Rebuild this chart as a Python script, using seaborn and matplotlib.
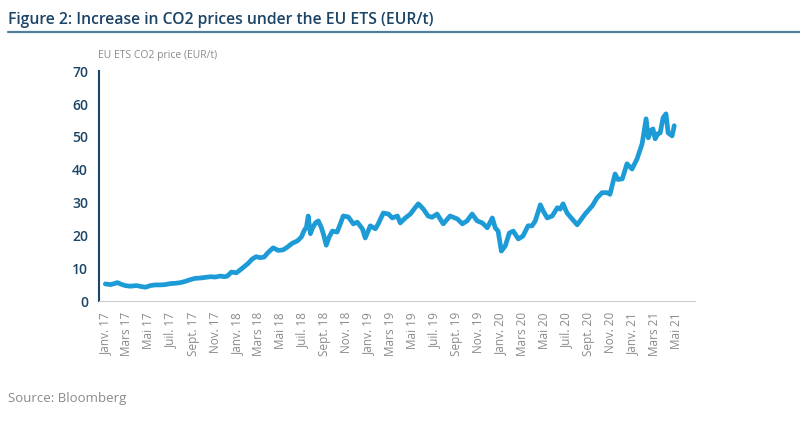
import pandas as pd
import numpy as np
import matplotlib
matplotlib.use("Agg")
import matplotlib.pyplot as plt
import seaborn as sns

# EU ETS CO2 price (EUR/t)
dates = [
    "2017-01-01", "2017-01-15", "2017-01-26", "2017-02-03", "2017-02-14", "2017-02-25",
    "2017-03-11", "2017-03-28", "2017-04-11", "2017-04-22", "2017-05-06", "2017-05-19",
    "2017-06-02", "2017-06-16", "2017-06-30", "2017-07-14", "2017-07-28", "2017-08-11",
    "2017-08-24", "2017-09-07", "2017-09-21", "2017-10-05", "2017-10-19", "2017-11-02",
    "2017-11-15", "2017-11-27", "2017-12-05", "2017-12-16", "2017-12-30",
    "2018-01-10", "2018-01-21", "2018-02-01", "2018-02-12", "2018-02-23", "2018-03-06",
    "2018-03-17", "2018-03-28", "2018-04-11", "2018-04-25", "2018-05-09", "2018-05-20",
    "2018-06-03", "2018-06-17", "2018-06-28", "2018-07-06", "2018-07-12", "2018-07-17",
    "2018-07-23", "2018-07-28", "2018-08-06", "2018-08-14", "2018-08-22", "2018-08-28",
    "2018-09-05", "2018-09-13", "2018-09-22", "2018-10-05", "2018-10-14", "2018-10-22",
    "2018-11-05", "2018-11-19", "2018-11-30", "2018-12-14", "2018-12-22",
    "2019-01-05", "2019-01-19", "2019-01-27", "2019-02-10", "2019-02-24", "2019-03-07",
    "2019-03-21", "2019-03-29", "2019-04-12", "2019-04-26", "2019-05-09", "2019-05-18",
    "2019-06-01", "2019-06-14", "2019-06-25", "2019-07-09", "2019-07-26", "2019-08-14",
    "2019-09-03", "2019-09-17", "2019-09-30", "2019-10-14", "2019-10-28", "2019-11-11",
    "2019-11-25", "2019-12-09", "2019-12-17", "2019-12-25",
    "2020-01-03", "2020-01-14", "2020-01-25", "2020-02-05", "2020-02-19", "2020-03-03",
    "2020-03-17", "2020-03-28", "2020-04-06", "2020-04-20", "2020-04-28", "2020-05-09",
    "2020-05-23", "2020-06-06", "2020-06-14", "2020-06-22", "2020-07-03", "2020-07-17",
    "2020-07-31", "2020-08-08", "2020-08-22", "2020-09-11", "2020-09-24", "2020-10-08",
    "2020-10-22", "2020-10-30", "2020-11-13", "2020-11-21", "2020-12-03", "2020-12-16",
    "2020-12-30",
    "2021-01-13", "2021-01-27", "2021-02-07", "2021-02-13", "2021-02-21", "2021-02-26",
    "2021-03-04", "2021-03-12", "2021-03-18", "2021-03-26", "2021-04-03", "2021-04-09",
    "2021-04-20", "2021-04-26",
]
prices = [
    5.2, 5.0, 5.3, 5.6, 5.1, 4.7,
    4.5, 4.7, 4.4, 4.2, 4.7, 4.9,
    4.9, 5.0, 5.3, 5.4, 5.6, 6.0,
    6.5, 6.9, 7.0, 7.2, 7.4, 7.3,
    7.6, 7.4, 7.6, 8.8, 8.6,
    9.5, 10.5, 11.5, 12.8, 13.5, 13.2,
    13.4, 14.8, 16.2, 15.4, 15.6, 16.4,
    17.6, 18.3, 19.5, 21.5, 22.5, 25.9,
    20.5, 22.0, 23.8, 24.4, 22.5, 20.4,
    17.0, 19.5, 21.3, 21.0, 23.5, 25.9,
    25.6, 23.5, 24.0, 22.0, 19.2,
    22.9, 22.0, 23.5, 26.8, 26.5, 25.3,
    25.9, 23.8, 25.3, 26.5, 28.4, 29.6,
    28.0, 25.9, 25.5, 26.5, 23.5, 25.9,
    25.0, 23.5, 24.4, 26.5, 24.4, 23.8,
    22.3, 25.3, 22.3, 21.3,
    15.2, 16.8, 20.7, 21.3, 18.9, 19.8,
    22.9, 22.9, 24.4, 29.3, 27.4, 25.3,
    25.9, 28.4, 28.0, 29.6, 26.8, 25.0,
    23.2, 24.4, 26.5, 29.0, 31.4, 33.0,
    33.0, 32.5, 38.7, 37.0, 37.2, 41.8,
    40.2,
    43.3, 47.9, 55.5, 49.7, 52.0, 52.4,
    49.4, 51.0, 51.2, 55.8, 57.0, 51.2,
    50.3, 53.4,
]
tick_labels = [
    "Janv. 17", "Mars 17", "Mai 17", "Juil. 17", "Sept. 17", "Nov. 17",
    "Janv. 18", "Mars 18", "Mai 18", "Juil. 18", "Sept. 18", "Nov. 18",
    "Janv. 19", "Mars 19", "Mai 19", "Juil. 19", "Sept. 19", "Nov. 19",
    "Janv. 20", "Mars 20", "Mai 20", "Juil. 20", "Sept. 20", "Nov. 20",
    "Janv. 21", "Mars 21", "Mai 21",
]

df = pd.DataFrame({"date": pd.to_datetime(dates), "price": prices})
tick_pos = pd.date_range("2017-01-01", periods=len(tick_labels), freq="2MS")

sns.set_style("white")
plt.rcParams["font.family"] = ["Open Sans", "DejaVu Sans"]

navy = "#1c4466"
grey = "#8a8a8a"
blue = "#1d9bd7"

fig = plt.figure(figsize=(8, 4.28), dpi=100)
ax = fig.add_axes([0.124, 0.2967, 0.745, 0.537])

sns.lineplot(data=df, x="date", y="price", color=blue, linewidth=3.4, ax=ax)

ax.set_ylim(0, 70)
ax.set_xlim(pd.Timestamp("2016-12-15"), pd.Timestamp("2021-06-23"))
ax.set_yticks(range(0, 71, 10))
ax.set_xticks(tick_pos)
ax.set_xticklabels(tick_labels, rotation=90, fontsize=8.5, color=grey)
ax.tick_params(axis="y", colors=navy, labelsize=10, length=5, width=1.5, direction="out", pad=3)
ax.tick_params(axis="x", colors="#cccccc", labelcolor=grey, length=4, width=0.8, pad=4)
for lab in ax.get_yticklabels():
    lab.set_fontweight("semibold")
ax.set_xlabel("")
ax.set_ylabel("")

for side in ["top", "right"]:
    ax.spines[side].set_visible(False)
ax.spines["left"].set_color(navy)
ax.spines["left"].set_linewidth(1.5)
ax.spines["bottom"].set_color("#cccccc")
ax.spines["bottom"].set_linewidth(0.8)

fig.text(0.01, 0.953, "Figure 2: Increase in CO2 prices under the EU ETS (EUR/t)",
         fontsize=11.3, fontweight="semibold", color=navy, va="center", ha="left")
fig.add_artist(plt.Line2D([0.01, 1.0], [0.925, 0.925], color="#4f7d9c", linewidth=1.6))
fig.text(0.122, 0.87, "EU ETS CO2 price (EUR/t)", fontsize=7.5, color=grey, va="center", ha="left")
fig.text(0.01, 0.07, "Source: Bloomberg", fontsize=9.5, color=grey, va="center", ha="left")

fig.savefig("out.png", dpi=100)
